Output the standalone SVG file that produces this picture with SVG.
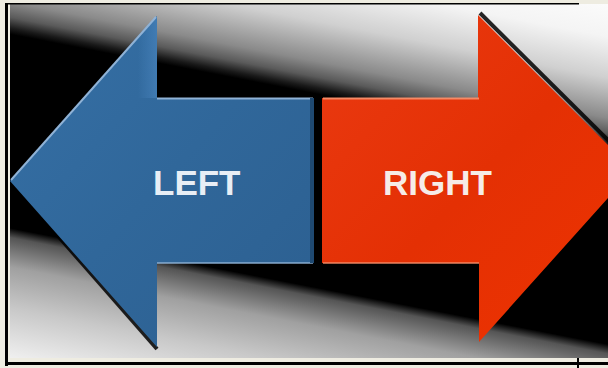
<svg xmlns="http://www.w3.org/2000/svg" width="608" height="368" viewBox="0 0 608 368">
  <defs>
    <linearGradient id="bg" gradientUnits="userSpaceOnUse" x1="24.8" y1="-127.7" x2="-68.8" y2="353.5">
      <stop offset="0" stop-color="#ffffff"/>
      <stop offset="0.102" stop-color="#f4f4f4"/>
      <stop offset="0.184" stop-color="#d0d0d0"/>
      <stop offset="0.265" stop-color="#8a8a8a"/>
      <stop offset="0.296" stop-color="#5a5a5a"/>
      <stop offset="0.318" stop-color="#1a1a1a"/>
      <stop offset="0.33" stop-color="#000000"/>
      <stop offset="0.718" stop-color="#000000"/>
      <stop offset="0.737" stop-color="#555555"/>
      <stop offset="0.796" stop-color="#a0a0a0"/>
      <stop offset="0.878" stop-color="#c8c8c8"/>
      <stop offset="0.98" stop-color="#f0f0f0"/>
      <stop offset="1" stop-color="#f4f4f4"/>
    </linearGradient>
    <linearGradient id="blue" x1="0" y1="0" x2="1" y2="1">
      <stop offset="0" stop-color="#3670a6"/>
      <stop offset="0.5" stop-color="#30679a"/>
      <stop offset="1" stop-color="#2c5f90"/>
    </linearGradient>
    <linearGradient id="red" x1="0" y1="0" x2="1" y2="1">
      <stop offset="0" stop-color="#ea3a12"/>
      <stop offset="0.5" stop-color="#e43004"/>
      <stop offset="1" stop-color="#ee3300"/>
    </linearGradient>
    <linearGradient id="glow" x1="0" y1="0" x2="1" y2="0">
      <stop offset="0" stop-color="#4a86c0" stop-opacity="0"/>
      <stop offset="1" stop-color="#4a86c0" stop-opacity="0.6"/>
    </linearGradient>
    <clipPath id="img">
      <rect x="10" y="4" width="598" height="354"/>
    </clipPath>
    <style>
      .lbl { font-family: "Liberation Sans", Arial, sans-serif; font-weight: bold; font-size: 35px; }
      .hl-b { stroke: #8fb2d6; stroke-width: 2; fill: none; }
      .hl-r { stroke: #f48a66; stroke-width: 2; fill: none; }
      .shadow { stroke: #000; stroke-width: 4; fill: none; opacity: 0.85; }
    </style>
  </defs>

  <rect width="608" height="368" fill="#eeece1"/>

  <g clip-path="url(#img)">
    <rect x="10" y="4" width="598" height="354" fill="url(#bg)"/>

    <g id="left-arrow">
      <path class="shadow" d="M10 181 L157 349"/>
      <polygon points="10,181 157,16 157,98 314,98 314,263 157,263 157,347" fill="url(#blue)"/>
      <polygon points="157,16 157,98 138,98 138,37" fill="url(#glow)"/>
      <path class="hl-b" d="M11 180 L156 17"/>
      <path class="hl-b" d="M157 98.5 L313 98.5"/>
      <path class="hl-b" d="M157 263 L313 263" opacity="0.7"/>
      <path d="M310 98 L314 98 L314 263 L310 263 Z" fill="#1f4a72"/>
      <text class="lbl" x="153" y="195" fill="#e8eef5">LEFT</text>
    </g>

    <g id="right-arrow">
      <path class="shadow" d="M480 13 L636 168"/>
      <polygon points="322,98 478,98 478,15 633,170 479,342 479,263 322,263" fill="url(#red)"/>
      <path class="hl-r" d="M323 98.5 L479 98.5"/>
      <path class="hl-r" d="M323 263 L479 263" opacity="0.7"/>
      <text class="lbl" x="383" y="195" fill="#f6ece8">RIGHT</text>
    </g>
  </g>

  <g id="frame" fill="#000">
    <rect x="5" y="3" width="574" height="1.5"/>
    <rect x="5" y="3" width="3" height="363"/>
    <rect x="5" y="362" width="603" height="3"/>
    <rect x="577" y="358" width="2" height="10"/>
  </g>
</svg>
